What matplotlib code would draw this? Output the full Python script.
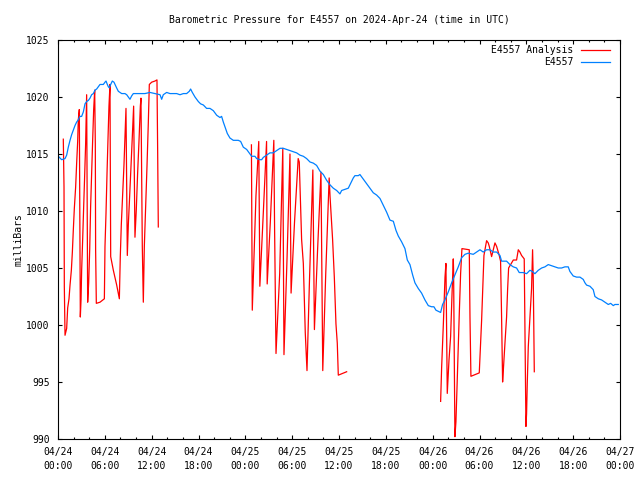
#!/usr/bin/env python3
"""Barometric pressure for station E4557: observations vs. analysis (gnuplot look)."""

import numpy as np
import matplotlib

matplotlib.use("Agg")
import matplotlib.pyplot as plt  # noqa: E402
import matplotlib.dates as mdates  # noqa: E402
from matplotlib.lines import Line2D  # noqa: E402

START = np.datetime64("2024-04-24T00:00")
END = np.datetime64("2024-04-27T00:00")

# station observations, hours after START / mbar
obs_hours = [
    0.04, 0.47, 0.90, 1.11, 1.32, 1.54, 1.75, 1.96, 2.18, 2.39, 2.60, 2.82, 3.03,
    3.25, 3.46, 3.67, 3.89, 4.10, 4.31, 4.53, 4.74, 4.95, 5.17, 5.38, 5.59, 5.81,
    6.02, 6.15, 6.32, 6.45, 6.58, 6.75, 6.96, 7.17, 7.30, 7.51, 7.73, 7.94, 8.16,
    8.58, 8.80, 9.01, 9.22, 9.44, 9.65, 9.86, 10.50, 11.14, 11.78, 12.43, 13.07,
    13.28, 13.49, 13.92, 14.35, 14.77, 15.20, 15.63, 16.06, 16.48, 16.82, 16.99,
    17.21, 17.55, 17.98, 18.27, 18.62, 19.04, 19.47, 19.90, 20.33, 20.75, 20.96,
    21.18, 21.39, 21.69, 22.03, 22.46, 23.10, 23.40, 23.74, 24.17, 24.59, 24.81,
    25.23, 25.45, 25.87, 26.09, 26.30, 26.73, 27.15, 27.58, 28.01, 28.44, 28.86,
    29.29, 29.72, 30.15, 30.57, 31.00, 31.43, 31.85, 32.28, 32.71, 33.13, 33.56,
    33.99, 34.41, 34.84, 35.27, 35.70, 36.12, 36.34, 36.76, 37.19, 37.40, 37.83,
    38.04, 38.47, 38.68, 39.11, 39.54, 39.97, 40.39, 40.82, 41.25, 41.67, 42.10,
    42.53, 42.96, 43.30, 43.60, 44.02, 44.45, 44.75, 45.09, 45.43, 45.73, 46.16,
    46.58, 47.01, 47.44, 47.86, 48.16, 48.42, 48.72, 49.02, 49.27, 49.57, 50.00,
    50.43, 50.85, 51.28, 51.71, 52.14, 52.56, 53.20, 53.63, 54.06, 54.48, 54.91,
    55.34, 55.76, 56.19, 56.62, 56.83, 57.47, 57.90, 58.33, 58.75, 59.09, 59.61,
    60.03, 60.46, 60.76, 61.10, 61.53, 61.96, 62.38, 62.81, 63.24, 63.66, 64.09,
    64.52, 64.94, 65.37, 65.58, 66.01, 66.44, 66.87, 67.29, 67.51, 67.72, 68.15,
    68.57, 68.79, 69.22, 69.64, 70.07, 70.50, 70.80, 71.14, 71.35, 71.78,
]
obs_mbar = [
    1014.8, 1014.5, 1014.6, 1014.9, 1015.6, 1016.2, 1016.7, 1017.1, 1017.5, 1017.8,
    1018.0, 1018.3, 1018.3, 1018.7, 1019.4, 1019.6, 1019.7, 1019.9, 1020.2, 1020.3,
    1020.6, 1020.7, 1020.9, 1021.1, 1021.1, 1021.1, 1021.3, 1021.4, 1021.1, 1020.9,
    1020.8, 1021.1, 1021.4, 1021.3, 1021.1, 1020.8, 1020.5, 1020.4, 1020.3, 1020.3,
    1020.2, 1020.0, 1019.8, 1020.1, 1020.3, 1020.3, 1020.3, 1020.3, 1020.4, 1020.3,
    1020.2, 1019.8, 1020.2, 1020.4, 1020.3, 1020.3, 1020.3, 1020.2, 1020.3, 1020.3,
    1020.5, 1020.7, 1020.4, 1020.0, 1019.6, 1019.4, 1019.3, 1019.0, 1019.0, 1018.8,
    1018.4, 1018.2, 1018.3, 1017.8, 1017.4, 1016.8, 1016.4, 1016.2, 1016.2, 1016.1,
    1015.6, 1015.4, 1015.0, 1014.8, 1014.8, 1014.6, 1014.5, 1014.5, 1014.7, 1014.9,
    1015.1, 1015.1, 1015.3, 1015.5, 1015.5, 1015.4, 1015.3, 1015.2, 1015.1, 1014.9,
    1014.8, 1014.6, 1014.3, 1014.2, 1014.0, 1013.5, 1013.2, 1012.7, 1012.3, 1012.0,
    1011.8, 1011.5, 1011.8, 1011.9, 1012.0, 1012.3, 1012.9, 1013.1, 1013.1, 1013.2,
    1012.8, 1012.4, 1012.0, 1011.6, 1011.4, 1011.1, 1010.5, 1009.9, 1009.2, 1009.1,
    1008.3, 1007.8, 1007.3, 1006.7, 1005.7, 1005.3, 1004.4, 1003.7, 1003.2, 1002.8,
    1002.2, 1001.7, 1001.6, 1001.6, 1001.3, 1001.2, 1001.1, 1001.8, 1002.2, 1002.9,
    1003.7, 1004.4, 1005.1, 1005.9, 1006.2, 1006.3, 1006.2, 1006.4, 1006.6, 1006.4,
    1006.6, 1006.6, 1006.4, 1006.4, 1006.1, 1005.6, 1005.6, 1005.3, 1005.1, 1005.0,
    1004.6, 1004.6, 1004.5, 1004.8, 1004.7, 1004.5, 1004.8, 1005.0, 1005.1, 1005.3,
    1005.2, 1005.1, 1005.0, 1005.0, 1005.1, 1005.1, 1004.7, 1004.3, 1004.2, 1004.2,
    1004.0, 1003.7, 1003.5, 1003.4, 1003.1, 1002.5, 1002.3, 1002.2, 1002.0, 1001.8,
    1001.9, 1001.7, 1001.8, 1001.8,
]

# analysis, three separate runs (gaps in between)
ana1_hours = [
    0.68, 0.77, 0.81, 0.90, 1.11, 1.24, 1.41, 1.54, 1.71, 1.84, 1.96, 2.09, 2.26,
    2.39, 2.52, 2.60, 2.73, 2.86, 2.95, 3.03, 3.16, 3.29, 3.42, 3.54, 3.67, 3.80,
    3.93, 4.06, 4.18, 4.31, 4.44, 4.57, 4.70, 4.78, 4.82, 4.91, 5.38, 5.94, 6.02,
    6.15, 6.28, 6.40, 6.53, 6.66, 6.75, 7.09, 7.52, 7.86, 7.98, 8.11, 8.28, 8.45,
    8.58, 8.71, 8.88, 9.01, 9.18, 9.35, 9.52, 9.69, 9.86, 10.03, 10.20, 10.38,
    10.55, 10.63, 10.80, 10.93, 11.06, 11.23, 11.40, 11.57, 11.70, 12.00, 12.42,
    12.68, 12.77, 12.85,
]
ana1_mbar = [
    1016.3, 1012.1, 1003.4, 999.1, 999.7, 1001.5, 1002.3, 1003.5, 1004.8, 1006.4,
    1008.3, 1010.2, 1012.1, 1014.2, 1016.1, 1018.0, 1018.9, 1000.7, 1002.2, 1004.8,
    1007.5, 1010.4, 1013.2, 1015.9, 1020.2, 1002.0, 1003.7, 1006.6, 1010.4, 1013.3,
    1016.2, 1018.9, 1020.6, 1015.9, 1006.6, 1001.9, 1002.0, 1002.3, 1006.9, 1009.8,
    1013.3, 1016.2, 1019.2, 1021.1, 1006.0, 1004.8, 1003.5, 1002.3, 1006.0, 1008.8,
    1011.4, 1014.0, 1016.5, 1019.0, 1006.1, 1008.8, 1011.3, 1013.9, 1016.5, 1019.2,
    1007.7, 1010.1, 1013.3, 1016.2, 1019.2, 1019.9, 1006.9, 1002.0, 1006.9, 1010.4,
    1013.9, 1017.7, 1021.1, 1021.3, 1021.4, 1021.5, 1015.1, 1008.6,
]
ana2_hours = [
    24.78, 24.89, 25.36, 25.72, 25.86, 26.30, 26.72, 26.80, 27.20, 27.65, 27.75,
    27.93, 28.40, 28.80, 28.95, 29.35, 29.72, 29.86, 30.30, 30.77, 30.91, 31.21,
    31.43, 31.68, 31.90, 32.20, 32.65, 32.85, 33.25, 33.69, 33.92, 34.30, 34.74,
    34.85, 35.18, 35.40, 35.61, 35.78, 35.91, 36.98,
]
ana2_mbar = [
    1015.8, 1001.3, 1011.3, 1016.1, 1003.4, 1009.8, 1016.1, 1003.6, 1009.0, 1016.2,
    1008.3, 997.5, 1004.5, 1015.5, 997.4, 1006.0, 1015.0, 1002.8, 1009.0, 1014.6,
    1014.3, 1007.5, 1005.4, 999.3, 996.0, 1003.5, 1013.6, 999.6, 1006.5, 1013.4,
    996.0, 1004.5, 1012.9, 1011.3, 1007.5, 1004.2, 1000.1, 998.4, 995.6, 995.9,
]
ana3_hours = [
    49.02, 49.15, 49.37, 49.58, 49.70, 49.87, 50.09, 50.30, 50.47, 50.64, 50.68,
    50.85, 50.98, 51.15, 51.41, 51.58, 51.75, 52.69, 52.78, 52.90, 53.97, 54.14,
    54.27, 54.57, 54.91, 55.12, 55.25, 55.55, 55.98, 56.19, 56.53, 56.70, 56.83,
    56.96, 57.05, 57.26, 57.47, 57.60, 57.73, 58.33, 58.75, 58.97, 59.18, 59.39,
    59.73, 59.95, 60.03, 60.12, 60.25, 60.67, 60.80, 60.89, 61.02,
]
ana3_mbar = [
    993.3, 996.3, 1000.1, 1004.2, 1005.4, 994.0, 996.9, 999.0, 1002.5, 1005.8,
    1004.8, 990.2, 991.5, 995.2, 1001.0, 1004.5, 1006.7, 1006.6, 1000.7, 995.5,
    995.8, 998.4, 1000.4, 1006.1, 1007.4, 1007.2, 1006.9, 1006.0, 1007.2, 1006.9,
    1006.1, 1005.6, 1000.7, 995.0, 996.0, 998.4, 1000.7, 1003.1, 1005.0, 1005.7,
    1005.7, 1006.6, 1006.4, 1006.1, 1005.8, 991.1, 992.2, 994.9, 998.1, 1003.2,
    1006.6, 1003.9, 995.9,
]

STATION = "E4557"
TITLE = f"Barometric Pressure for {STATION} on 2024-Apr-24 (time in UTC)"
RED = "#ff0000"
BLUE = "#0080ff"
FONT = "DejaVu Sans Mono"
FS = 7
LW = 0.9


def to_times(hours):
    secs = np.round(np.asarray(hours) * 3600).astype("timedelta64[s]")
    return START + secs


def main():
    plt.rcParams["font.family"] = FONT
    plt.rcParams["font.size"] = FS

    fig = plt.figure(figsize=(6.4, 4.8), dpi=100)
    ax = fig.add_axes([58 / 640, 41 / 480, 562 / 640, 399 / 480])

    for hrs, vals in [(ana1_hours, ana1_mbar), (ana2_hours, ana2_mbar), (ana3_hours, ana3_mbar)]:
        ax.plot(to_times(hrs), vals, color=RED, lw=LW)
    ax.plot(to_times(obs_hours), obs_mbar, color=BLUE, lw=LW)

    ax.set_xlim(START, END)
    ax.set_ylim(990, 1025)
    ax.set_yticks(np.arange(990, 1026, 5))
    ax.xaxis.set_major_locator(mdates.HourLocator(byhour=range(0, 24, 6)))
    ax.xaxis.set_minor_locator(mdates.HourLocator(byhour=range(0, 24, 2)))
    ax.xaxis.set_major_formatter(mdates.DateFormatter("%m/%d\n%H:%M"))
    ax.tick_params(which="both", direction="in", top=True, right=True,
                   width=0.8, colors="black", labelsize=FS)
    ax.tick_params(which="major", length=3.0)
    ax.tick_params(which="minor", length=1.5)
    ax.tick_params(axis="x", pad=6)
    ax.tick_params(axis="y", pad=6)
    for lbl in ax.get_xticklabels():
        lbl.set_linespacing(1.45)
    for sp in ax.spines.values():
        sp.set_linewidth(0.8)

    ax.set_ylabel("milliBars", fontsize=FS, labelpad=2)
    fig.text(339 / 640, 1 - 20 / 480, TITLE, ha="center", va="center", fontsize=FS)

    # legend, gnuplot style: right-aligned text then line sample
    rows = [(f"{STATION} Analysis", RED), (STATION, BLUE)]
    for i, (label, col) in enumerate(rows):
        y = 0.975 - i * 0.030
        ax.text(0.9164, y, label, transform=ax.transAxes, ha="right", va="center", fontsize=FS)
        ax.add_line(Line2D([0.9306, 0.9822], [y, y], transform=ax.transAxes, color=col, lw=LW))

    fig.savefig("out.png", dpi=100)
    plt.close(fig)


if __name__ == "__main__":
    main()
